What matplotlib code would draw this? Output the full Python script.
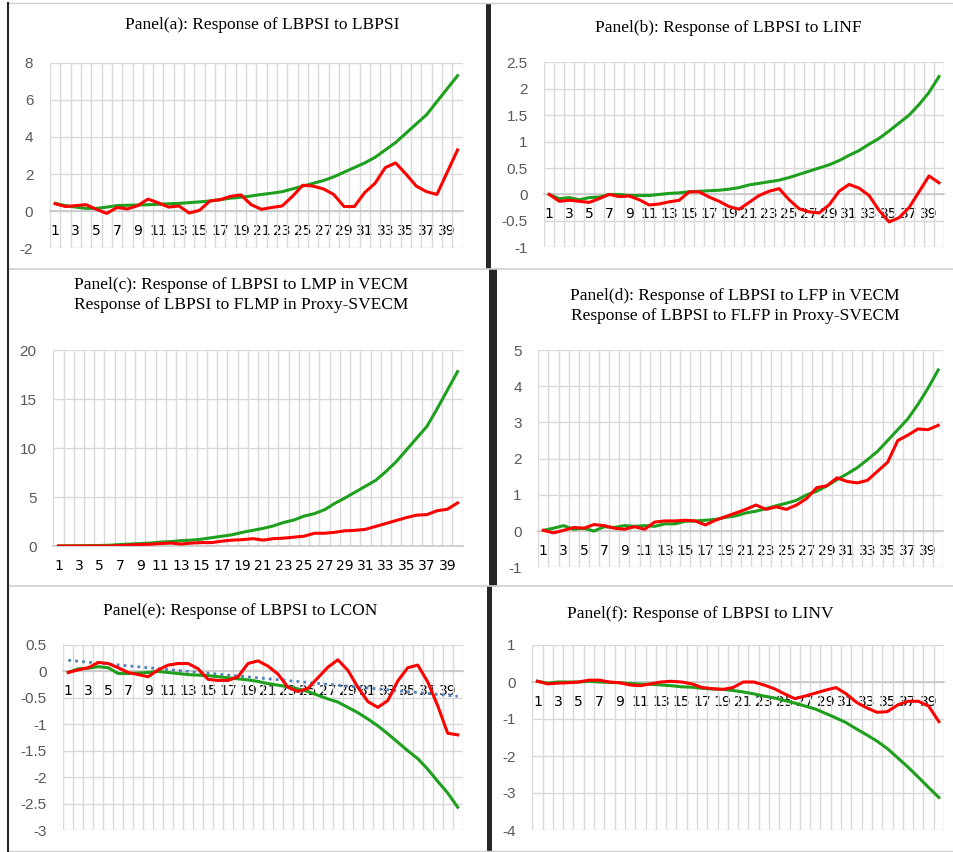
import numpy as np
import matplotlib
matplotlib.use('Agg')
import matplotlib.pyplot as plt
from matplotlib.lines import Line2D
from matplotlib.patches import Rectangle

# 40 期脉冲响应
periods = list(range(1, 41))

a_green = [0.42, 0.3, 0.22, 0.15, 0.15, 0.22, 0.3, 0.32, 0.33, 0.35, 0.37, 0.4, 0.42, 0.46, 0.5, 0.55, 0.62, 0.7, 0.75, 0.82,
           0.9, 0.97, 1.05, 1.2, 1.35, 1.5, 1.65, 1.85, 2.1, 2.35, 2.6, 2.9, 3.3, 3.7, 4.2, 4.7, 5.2, 5.9, 6.6, 7.3]
a_red = [0.4, 0.25, 0.3, 0.35, 0.1, -0.12, 0.2, 0.12, 0.3, 0.65, 0.45, 0.22, 0.28, -0.1, 0.05, 0.55, 0.62, 0.8, 0.88, 0.35,
         0.1, 0.2, 0.28, 0.8, 1.4, 1.35, 1.2, 0.9, 0.25, 0.25, 1.0, 1.5, 2.35, 2.6, 2.0, 1.35, 1.05, 0.9, 2.1, 3.3]

b_green = [0.0, -0.08, -0.06, -0.1, -0.06, -0.05, 0.0, 0.0, -0.02, -0.02, -0.02, 0.0, 0.02, 0.03, 0.05, 0.06, 0.07, 0.08, 0.1, 0.13,
           0.18, 0.21, 0.24, 0.27, 0.32, 0.38, 0.44, 0.5, 0.56, 0.64, 0.74, 0.83, 0.95, 1.06, 1.2, 1.35, 1.5, 1.7, 1.93, 2.23]
b_red = [0.0, -0.13, -0.11, -0.13, -0.15, -0.08, 0.0, -0.04, -0.03, -0.1, -0.2, -0.18, -0.14, -0.11, 0.05, 0.05, -0.05, -0.13, -0.23, -0.28,
         -0.15, -0.02, 0.06, 0.11, -0.1, -0.27, -0.33, -0.35, -0.2, 0.06, 0.19, 0.12, -0.02, -0.3, -0.52, -0.44, -0.25, 0.05, 0.35, 0.22]

c_green = [0.0, 0.02, 0.03, 0.04, 0.05, 0.08, 0.15, 0.2, 0.25, 0.3, 0.4, 0.45, 0.55, 0.6, 0.7, 0.85, 1.0, 1.15, 1.4, 1.6,
           1.8, 2.05, 2.4, 2.65, 3.05, 3.3, 3.7, 4.35, 4.9, 5.5, 6.1, 6.7, 7.6, 8.6, 9.8, 11.0, 12.2, 14.0, 15.9, 17.8]
c_red = [0.0, 0.0, 0.0, 0.0, 0.0, 0.0, 0.05, 0.1, 0.15, 0.18, 0.25, 0.3, 0.2, 0.3, 0.35, 0.35, 0.5, 0.6, 0.65, 0.75,
         0.6, 0.75, 0.8, 0.9, 1.0, 1.3, 1.3, 1.4, 1.55, 1.6, 1.7, 2.0, 2.3, 2.6, 2.9, 3.15, 3.2, 3.6, 3.75, 4.4]

d_green = [0.02, 0.08, 0.15, 0.05, 0.08, 0.0, 0.12, 0.1, 0.15, 0.13, 0.15, 0.13, 0.2, 0.2, 0.27, 0.28, 0.3, 0.32, 0.38, 0.42,
           0.5, 0.55, 0.62, 0.7, 0.77, 0.85, 1.0, 1.1, 1.25, 1.42, 1.58, 1.75, 1.97, 2.2, 2.5, 2.8, 3.1, 3.5, 3.95, 4.45]
d_red = [0.02, -0.05, 0.02, 0.1, 0.08, 0.18, 0.15, 0.08, 0.05, 0.12, 0.05, 0.25, 0.28, 0.28, 0.3, 0.28, 0.17, 0.3, 0.4, 0.5,
         0.6, 0.72, 0.6, 0.67, 0.6, 0.72, 0.9, 1.2, 1.25, 1.47, 1.37, 1.33, 1.4, 1.65, 1.9, 2.5, 2.65, 2.82, 2.8, 2.92]

e_green = [-0.02, 0.05, 0.06, 0.09, 0.07, -0.04, -0.04, -0.03, -0.02, 0.0, -0.02, -0.04, -0.06, -0.07, -0.08, -0.1, -0.12, -0.14, -0.16, -0.19,
           -0.23, -0.26, -0.29, -0.33, -0.38, -0.45, -0.52, -0.58, -0.68, -0.78, -0.9, -1.03, -1.18, -1.34, -1.5, -1.65, -1.85, -2.08, -2.3, -2.57]
e_red = [-0.02, 0.03, 0.07, 0.17, 0.15, 0.07, -0.02, -0.06, -0.1, 0.03, 0.12, 0.15, 0.15, 0.05, -0.15, -0.17, -0.17, -0.1, 0.15, 0.2,
         0.1, -0.05, -0.3, -0.38, -0.32, -0.12, 0.08, 0.22, 0.02, -0.3, -0.57, -0.68, -0.55, -0.18, 0.07, 0.12, -0.2, -0.65, -1.17, -1.2]
e_trend_x = [1, 40]
e_trend = [0.21, -0.47]

f_green = [0.02, -0.03, 0.0, 0.0, 0.0, 0.02, 0.0, -0.01, -0.02, -0.04, -0.06, -0.06, -0.08, -0.1, -0.13, -0.14, -0.17, -0.19, -0.2, -0.23,
           -0.27, -0.32, -0.38, -0.43, -0.5, -0.57, -0.65, -0.73, -0.85, -0.97, -1.1, -1.27, -1.43, -1.6, -1.8, -2.05, -2.3, -2.57, -2.85, -3.12]
f_red = [0.02, -0.05, -0.03, -0.02, 0.0, 0.05, 0.05, 0.0, -0.02, -0.08, -0.1, -0.05, 0.0, 0.02, 0.0, -0.05, -0.15, -0.18, -0.2, -0.15,
         0.0, 0.0, -0.08, -0.18, -0.32, -0.45, -0.38, -0.3, -0.22, -0.15, -0.32, -0.55, -0.7, -0.82, -0.8, -0.62, -0.52, -0.52, -0.65, -1.07]

a_yticks = [-2, 0, 2, 4, 6, 8]
b_yticks = [-1, -0.5, 0, 0.5, 1, 1.5, 2, 2.5]
c_yticks = [0, 5, 10, 15, 20]
d_yticks = [-1, 0, 1, 2, 3, 4, 5]
e_yticks = [-3, -2.5, -2, -1.5, -1, -0.5, 0, 0.5]
f_yticks = [-4, -3, -2, -1, 0, 1]

W, H = 954, 852
GREEN = '#1ea01e'
RED = '#ff0000'
GRID = '#d9d9d9'

fig = plt.figure(figsize=(W / 100, H / 100), dpi=100)


def px_axes(l, r, t, b):
    return fig.add_axes([l / W, 1 - b / H, (r - l) / W, (b - t) / H])


def fmt(v):
    return ('%g' % v)


def panel(box, green, red, yticks, serif_x=True, xcol='#404040'):
    ax = px_axes(*box)
    ax.plot(periods, green, color=GREEN, lw=2.2, zorder=3)
    ax.plot(periods, red, color=RED, lw=2.2, zorder=4)
    ax.set_xlim(0.5, 40.5)
    ax.set_ylim(yticks[0], yticks[-1])
    ax.set_yticks(yticks)
    ax.set_yticklabels([fmt(v) for v in yticks], family='Liberation Sans', fontsize=11, color='#595959')
    ax.set_xticks(range(1, 41, 2))
    ax.set_xticklabels([str(i) for i in range(1, 41, 2)],
                       family='Liberation Serif' if serif_x else 'Liberation Sans',
                       fontsize=12.5 if serif_x else 11, color=xcol)
    ax.set_xticks(np.arange(0.5, 41, 1), minor=True)
    ax.tick_params(axis='both', which='both', length=0)
    ax.tick_params(axis='y', pad=12)
    ax.tick_params(axis='x', pad=9)
    ax.grid(True, which='minor', axis='x', color=GRID, lw=1)
    ax.grid(True, which='major', axis='y', color=GRID, lw=1)
    for s in ['top', 'right', 'left']:
        ax.spines[s].set_visible(False)
    ax.spines['bottom'].set_position(('data', 0))
    ax.spines['bottom'].set_color('#c8c8c8')
    ax.spines['bottom'].set_linewidth(1.2)
    ax.set_axisbelow(True)
    ax.patch.set_alpha(0)
    return ax


panel((50, 462.7, 62.7, 248.3), a_green, a_red, a_yticks, serif_x=False, xcol='#595959')
panel((544.3, 944, 62.3, 247.3), b_green, b_red, b_yticks)
panel((53.3, 462.7, 350, 546), c_green, c_red, c_yticks)
panel((538.3, 943.3, 350, 567.3), d_green, d_red, d_yticks)
ax_e = panel((63.3, 462.7, 645, 830), e_green, e_red, e_yticks, xcol='#202020')
ax_e.plot(e_trend_x, e_trend, color='#4f81bd', lw=2, ls=(0, (1, 1.5)), zorder=2.8)
panel((532.3, 944, 645, 830), f_green, f_red, f_yticks)

# 标题
titles = [
    (262, 25, 'Panel(a): Response of LBPSI to LBPSI'),
    (728, 28, 'Panel(b): Response of LBPSI to LINF'),
    (241, 285, 'Panel(c): Response of LBPSI to LMP in VECM'),
    (241, 305, 'Response of LBPSI to FLMP in Proxy-SVECM'),
    (735, 296, 'Panel(d): Response of LBPSI to LFP in VECM'),
    (735, 316, 'Response of LBPSI to FLFP in Proxy-SVECM'),
    (240, 611, 'Panel(e): Response of LBPSI to LCON'),
    (700, 614, 'Panel(f): Response of LBPSI to LINV'),
]
for x, y, t in titles:
    fig.text(x / W, 1 - y / H, t, ha='center', va='center', family='Liberation Serif', fontsize=12.5, color='black')

# 拼图边框
DARK = '#262626'
LIGHT = '#d0d0d0'


def hline(y, x0, x1, c, lw):
    fig.add_artist(Line2D([x0 / W, x1 / W], [1 - y / H, 1 - y / H], color=c, lw=lw))


hline(3, 9, 954, LIGHT, 1)
hline(851, 9, 954, LIGHT, 1)
hline(269, 9, 954, LIGHT, 1.2)
hline(586, 9, 954, LIGHT, 1.2)
fig.add_artist(Line2D([8.5 / W, 8.5 / W], [1 - 3 / H, 0], color=DARK, lw=1.5))
for x0, x1, y0, y1 in [(486.5, 491, 3, 269), (489, 497, 269, 586), (487, 492, 586, 852)]:
    fig.add_artist(Rectangle((x0 / W, 1 - y1 / H), (x1 - x0) / W, (y1 - y0) / H, color=DARK, lw=0))

plt.savefig('out.png', dpi=100)
